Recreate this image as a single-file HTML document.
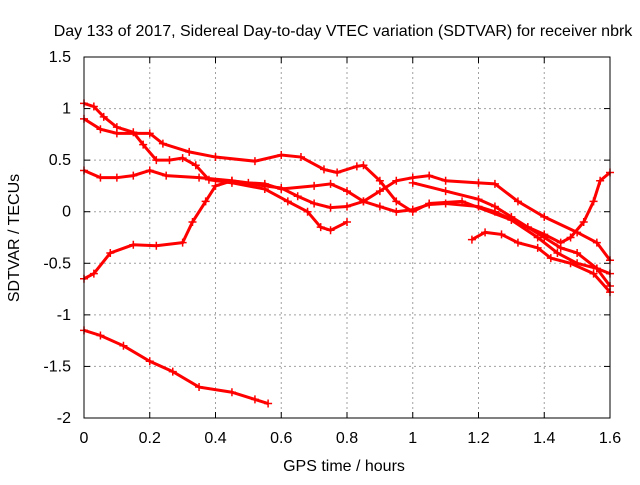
<!DOCTYPE html>
<html><head><meta charset="utf-8"><style>
body{margin:0;background:#fff;}
svg text{font-family:"Liberation Sans",sans-serif;font-size:16px;fill:#000;}
</style></head><body>
<svg id="chart" width="640" height="480">
<text x="343" y="36" text-anchor="middle">Day 133 of 2017, Sidereal Day-to-day VTEC variation (SDTVAR) for receiver nbrk</text>
<text x="344" y="471" text-anchor="middle">GPS time / hours</text>
<text transform="translate(19,238) rotate(-90)" text-anchor="middle">SDTVAR / TECUs</text>
<g id="grid"></g><g id="axes"></g><g id="series"></g>
<rect x="84" y="57" width="526" height="361" fill="none" stroke="#000" stroke-width="1"/>
</svg>
<script>
const xTicks=[0,0.2,0.4,0.6,0.8,1,1.2,1.4,1.6];
const xTickLabels=["0","0.2","0.4","0.6","0.8","1","1.2","1.4","1.6"];
const yTicks=[-2,-1.5,-1,-0.5,0,0.5,1,1.5];
const yTickLabels=["-2","-1.5","-1","-0.5","0","0.5","1","1.5"];
const s1x=[0,0.03,0.06,0.1,0.15,0.18,0.22,0.26,0.3,0.34,0.38,0.45,0.55,0.62,0.68,0.72,0.75,0.8];
const s1y=[1.05,1.02,0.92,0.82,0.77,0.65,0.5,0.5,0.52,0.45,0.31,0.28,0.22,0.1,0.0,-0.15,-0.18,-0.1];
const s2x=[0,0.05,0.1,0.2,0.24,0.32,0.4,0.52,0.6,0.66,0.73,0.77,0.83,0.85,0.9,0.95,1.0,1.05,1.15,1.3,1.38,1.44,1.5,1.56,1.6];
const s2y=[0.9,0.8,0.76,0.76,0.66,0.58,0.53,0.49,0.55,0.53,0.41,0.38,0.44,0.45,0.3,0.1,0.0,0.08,0.1,-0.08,-0.25,-0.4,-0.5,-0.55,-0.6];
const s3x=[0,0.05,0.1,0.15,0.2,0.25,0.35,0.45,0.55,0.6,0.65,0.7,0.75,0.8,0.85,0.9,0.95,1.0,1.05,1.1,1.2,1.25,1.32,1.4,1.5,1.56,1.6];
const s3y=[0.4,0.33,0.33,0.35,0.4,0.35,0.33,0.3,0.25,0.23,0.15,0.08,0.04,0.05,0.1,0.2,0.3,0.33,0.35,0.3,0.28,0.27,0.1,-0.05,-0.2,-0.3,-0.47];
const s4x=[0,0.03,0.08,0.15,0.22,0.3,0.33,0.37,0.4,0.45,0.5,0.55,0.6,0.7,0.75,0.8,0.85,0.9,0.95,1.0,1.05,1.1,1.2,1.25,1.35,1.4,1.45,1.5,1.56,1.6];
const s4y=[-0.65,-0.6,-0.4,-0.32,-0.33,-0.3,-0.1,0.1,0.25,0.3,0.28,0.27,0.22,0.25,0.27,0.2,0.1,0.05,0.0,0.02,0.07,0.08,0.05,0.0,-0.15,-0.25,-0.35,-0.4,-0.55,-0.72];
const s5x=[0,0.05,0.12,0.2,0.27,0.35,0.45,0.52,0.56];
const s5y=[-1.15,-1.2,-1.3,-1.45,-1.55,-1.7,-1.75,-1.82,-1.86];
const s6x=[1.18,1.22,1.27,1.32,1.38,1.42,1.48,1.55,1.6];
const s6y=[-0.27,-0.2,-0.22,-0.3,-0.35,-0.45,-0.5,-0.6,-0.78];
const s7x=[1.0,1.1,1.2,1.25,1.3,1.35,1.4,1.45,1.48,1.52,1.55,1.57,1.6];
const s7y=[0.28,0.2,0.12,0.05,-0.05,-0.15,-0.22,-0.3,-0.25,-0.1,0.1,0.3,0.38];
const NS="http://www.w3.org/2000/svg";
const X=v=>84+v*(526/1.6), Y=v=>57+(1.5-v)*(361/3.5);
function mk(t,a,p){const e=document.createElementNS(NS,t);for(const k in a)e.setAttribute(k,a[k]);p.appendChild(e);return e;}
const grid=document.getElementById('grid'),axes=document.getElementById('axes'),ser=document.getElementById('series');
xTicks.forEach((t,i)=>{
 if(i>0&&i<xTicks.length-1){const g=mk('line',{x1:X(t),x2:X(t),y1:57,y2:418,stroke:'#a0a0a0','stroke-dasharray':'2,3'},grid);
 
 }
 mk('line',{x1:X(t),x2:X(t),y1:418,y2:412,stroke:'#000'},axes);mk('line',{x1:X(t),x2:X(t),y1:57,y2:63,stroke:'#000'},axes);
 const l=mk('text',{x:X(t),y:443,'text-anchor':'middle'},axes);l.textContent=xTickLabels[i];
 
 
});
yTicks.forEach((t,i)=>{
 if(i>0&&i<yTicks.length-1){const g=mk('line',{x1:84,x2:610,y1:Y(t),y2:Y(t),stroke:'#a0a0a0','stroke-dasharray':'2,3'},grid);
 
 }
 mk('line',{x1:84,x2:90,y1:Y(t),y2:Y(t),stroke:'#000'},axes);mk('line',{x1:604,x2:610,y1:Y(t),y2:Y(t),stroke:'#000'},axes);
 const l=mk('text',{x:71,y:Y(t)+5,'text-anchor':'end'},axes);l.textContent=yTickLabels[i];
 
 
});
[[s1x,s1y],[s2x,s2y],[s3x,s3y],[s4x,s4y],[s5x,s5y],[s6x,s6y],[s7x,s7y]].forEach((s,k)=>{
 const g=mk('g',{},ser);
 
 
 const pts=s[0].map((x,i)=>X(x)+','+Y(s[1][i])).join(' ');
 mk('polyline',{points:pts,fill:'none',stroke:'#f00','stroke-width':3},g);
 s[0].forEach((x,i)=>{const cx=X(x),cy=Y(s[1][i]);
  const p=mk('path',{d:`M${cx-4},${cy}H${cx+4}M${cx},${cy-4}V${cy+4}`,stroke:'#f00','stroke-width':1.5},g);
  
  });
});
</script>
</body></html>
